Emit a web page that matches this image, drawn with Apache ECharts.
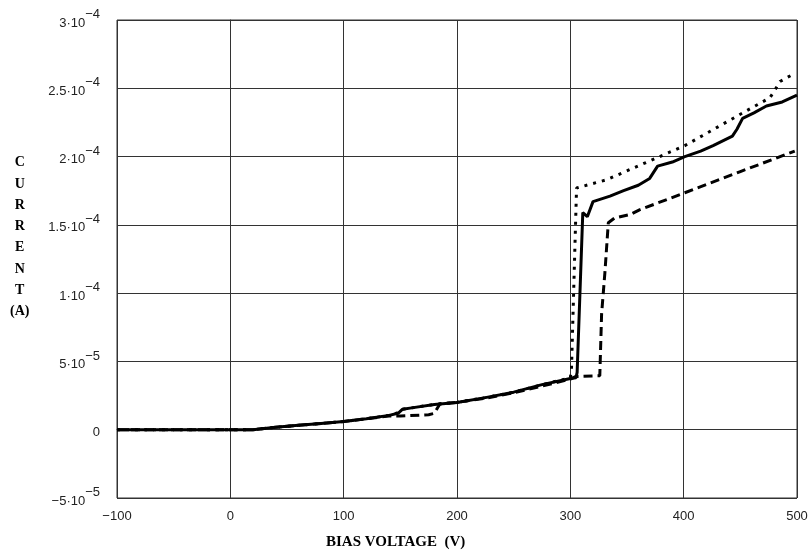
<!DOCTYPE html>
<html>
<head>
<meta charset="utf-8">
<script src="https://cdn.jsdelivr.net/npm/echarts@6/dist/echarts.min.js"></script>
<style>
html,body{margin:0;padding:0;background:#fff;}
#chart{width:812px;height:556px;}
</style>
</head>
<body>
<div id="chart"></div>
<script>
// ---- data (current in units of 1e-6 A) ----
const solidV = [-100, 20, 40, 60, 80, 100, 120, 140, 148, 152, 160, 180, 200, 225, 250, 275, 300, 305, 306, 311, 315, 320, 335, 347, 360, 370, 377, 390, 401, 415, 426, 443, 447, 452, 462, 473, 487, 500];
const solidI = [0, 0, 1.8, 3.2, 4.6, 6, 8, 10.5, 12, 15, 16, 18.5, 20, 23.5, 27.5, 33, 37.5, 38, 42, 159, 156, 167, 171, 175, 179, 184, 193, 196, 200, 204, 208, 215, 220, 228, 232, 237, 240, 245];

const dottedV = [-100, 20, 40, 60, 80, 100, 120, 140, 148, 152, 160, 180, 200, 225, 250, 275, 300, 301, 305.5, 332, 376, 401, 450, 476, 480, 485, 496];
const dottedI = [0, 0, 1.8, 3.2, 4.6, 6, 8, 10.5, 12.5, 15, 16, 18.5, 20, 23.5, 27.5, 33, 38, 44, 177, 183, 199, 208, 231, 243, 248, 255, 260];

const dashedV = [-100, 20, 40, 60, 80, 100, 120, 140, 150, 175, 180, 185, 200, 225, 250, 275, 300, 305, 326, 327.6, 330.5, 333.5, 339, 353, 361, 401, 450, 498];
const dashedI = [0, 0, 1.8, 3.2, 4.6, 6, 8, 10, 10, 11, 12, 19, 20, 23, 27, 32, 37, 39, 39.5, 85, 115, 151.5, 155, 157.6, 161, 173.5, 189, 204];

const xTickLabels = ['\u2212100', '0', '100', '200', '300', '400', '500'];
const yTickMantissa = ['\u22125', '0', '5', '1', '1.5', '2', '2.5', '3'];
const yTickExponent = ['\u22125', '', '\u22125', '\u22124', '\u22124', '\u22124', '\u22124', '\u22124'];

const xMin = -100, xMax = 500, xStep = 100;
const yMin = -5e-5, yMax = 3e-4, yStep = 5e-5;

function pairs(xs, ys) { return xs.map((x, i) => [x, ys[i] * 1e-6]); }

const chart = echarts.init(document.getElementById('chart'), null, {renderer: 'canvas'});
const lineStyleBase = {color: '#000', width: 3};
chart.setOption({
  animation: false,
  backgroundColor: '#fff',
  grid: {left: 117, right: 15, top: 20, bottom: 58, show: true, borderColor: '#333', borderWidth: 1},
  xAxis: {
    type: 'value', min: xMin, max: xMax, interval: xStep,
    axisLine: {show: true, lineStyle: {color: '#333', width: 1}},
    axisTick: {show: false},
    splitLine: {show: true, lineStyle: {color: '#333', width: 1}},
    axisLabel: {
      margin: 12, color: '#222', fontFamily: 'Liberation Sans', fontSize: 13,
      formatter: (v) => xTickLabels[Math.round((v - xMin) / xStep)]
    }
  },
  yAxis: {
    type: 'value', min: yMin, max: yMax, interval: yStep,
    axisLine: {show: true, lineStyle: {color: '#333', width: 1}},
    axisTick: {show: false},
    splitLine: {show: true, lineStyle: {color: '#333', width: 1}},
    axisLabel: {
      margin: 17, color: '#222', fontFamily: 'Liberation Sans', fontSize: 13,
      padding: [6, 0, 0, 0],
      formatter: (v) => {
        const i = Math.round((v - yMin) / yStep);
        if (!yTickExponent[i]) return '{m|' + yTickMantissa[i] + '}';
        return '{m|' + yTickMantissa[i] + '\u00b710}{e|' + yTickExponent[i] + '}';
      },
      rich: {
        m: {fontFamily: 'Liberation Sans', fontSize: 13, color: '#222', lineHeight: 30, verticalAlign: 'middle'},
        e: {fontFamily: 'Liberation Sans', fontSize: 13, color: '#222', lineHeight: 13, verticalAlign: 'top'}
      }
    }
  },
  graphic: [
    {type: 'text', left: 10, top: 152, style: {text: 'C\nU\nR\nR\nE\nN\nT\n(A)', textAlign: 'center', x: 0, fill: '#000', font: 'bold 14px "Liberation Serif"', lineHeight: 21.3}},
    {type: 'text', left: 326, top: 535, style: {text: 'BIAS VOLTAGE  (V)', fill: '#000', font: 'bold 15px "Liberation Serif"'}}
  ],
  series: [
    {type: 'line', data: pairs(dashedV, dashedI), showSymbol: false, lineStyle: Object.assign({}, lineStyleBase, {type: [9, 5]}), z: 3},
    {type: 'line', data: pairs(dottedV, dottedI), showSymbol: false, lineStyle: Object.assign({}, lineStyleBase, {type: [3, 6]}), z: 4},
    {type: 'line', data: pairs(solidV, solidI), showSymbol: false, lineStyle: Object.assign({}, lineStyleBase, {type: 'solid'}), z: 5}
  ]
});
</script>
</body>
</html>
